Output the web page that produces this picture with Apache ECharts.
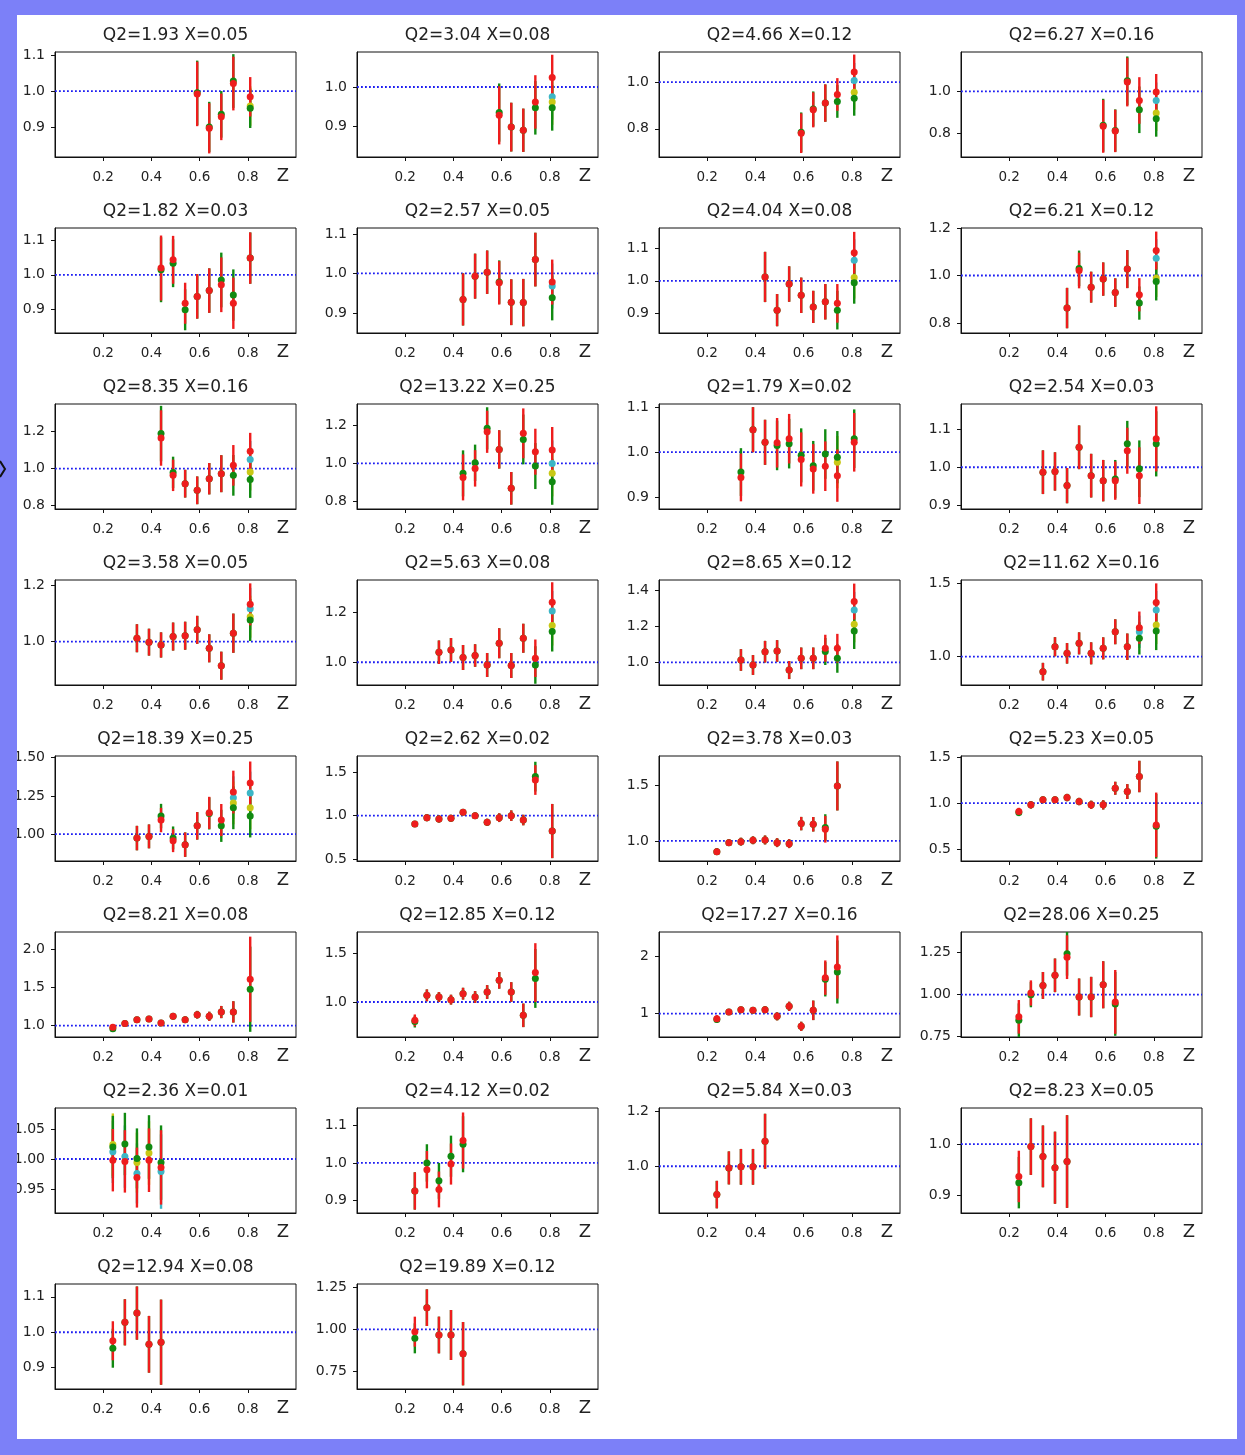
<!DOCTYPE html>
<html>
<head>
<meta charset="utf-8">
<script src="https://cdn.jsdelivr.net/npm/echarts@6/dist/echarts.min.js"></script>
<style>
  html, body { margin: 0; padding: 0; background: #fff; }
  #chart { width: 1245px; height: 1455px; }
</style>
</head>
<body>
<div id="chart"></div>
<script>
// ---- panel titles (Q2 / x bins) ----
const titles = [
  'Q2=1.93 X=0.05', 'Q2=3.04 X=0.08', 'Q2=4.66 X=0.12', 'Q2=6.27 X=0.16',
  'Q2=1.82 X=0.03', 'Q2=2.57 X=0.05', 'Q2=4.04 X=0.08', 'Q2=6.21 X=0.12',
  'Q2=8.35 X=0.16', 'Q2=13.22 X=0.25', 'Q2=1.79 X=0.02', 'Q2=2.54 X=0.03',
  'Q2=3.58 X=0.05', 'Q2=5.63 X=0.08', 'Q2=8.65 X=0.12', 'Q2=11.62 X=0.16',
  'Q2=18.39 X=0.25', 'Q2=2.62 X=0.02', 'Q2=3.78 X=0.03', 'Q2=5.23 X=0.05',
  'Q2=8.21 X=0.08', 'Q2=12.85 X=0.12', 'Q2=17.27 X=0.16', 'Q2=28.06 X=0.25',
  'Q2=2.36 X=0.01', 'Q2=4.12 X=0.02', 'Q2=5.84 X=0.03', 'Q2=8.23 X=0.05',
  'Q2=12.94 X=0.08', 'Q2=19.89 X=0.12'
];

// ---- axis limits and tick labels ----
const xTicks = ['0.2', '0.4', '0.6', '0.8'];
const yLimits = [
  [0.816, 1.109], [0.822, 1.089], [0.679, 1.129], [0.69, 1.186],
  [0.83, 1.137], [0.849, 1.115], [0.838, 1.164], [0.758, 1.2],
  [0.782, 1.35], [0.762, 1.31], [0.874, 1.107], [0.891, 1.165],
  [0.845, 1.22], [0.909, 1.329], [0.874, 1.457], [0.807, 1.523],
  [0.824, 1.511], [0.481, 1.683], [0.82, 1.763], [0.374, 1.511],
  [0.85, 2.23], [0.643, 1.714], [0.593, 2.424], [0.748, 1.373],
  [0.91, 1.085], [0.866, 1.147], [0.83, 1.212], [0.866, 1.07],
  [0.84, 1.136], [0.642, 1.272]
];
const yTicks = [
  ['0.9', '1.0', '1.1'], ['0.9', '1.0'], ['0.8', '1.0'], ['0.8', '1.0'],
  ['0.9', '1.0', '1.1'], ['0.9', '1.0', '1.1'], ['0.9', '1.0', '1.1'], ['0.8', '1.0', '1.2'],
  ['0.8', '1.0', '1.2'], ['0.8', '1.0', '1.2'], ['0.9', '1.0', '1.1'], ['0.9', '1.0', '1.1'],
  ['1.0', '1.2'], ['1.0', '1.2'], ['1.0', '1.2', '1.4'], ['1.0', '1.5'],
  ['1.00', '1.25', '1.50'], ['0.5', '1.0', '1.5'], ['1.0', '1.5'], ['0.5', '1.0', '1.5'],
  ['1.0', '1.5', '2.0'], ['1.0', '1.5'], ['1', '2'], ['0.75', '1.00', '1.25'],
  ['0.95', '1.00', '1.05'], ['0.9', '1.0', '1.1'], ['1.0', '1.2'], ['0.9', '1.0'],
  ['0.9', '1.0', '1.1'], ['0.75', '1.00', '1.25']
];
const refLevel = 1.0;

// ---- z bins ----
const zHigh5 = [0.59, 0.64, 0.69, 0.74, 0.81];
const zFrom44 = [0.44, 0.49, 0.54, 0.59, 0.64, 0.69, 0.74, 0.81];
const zFrom34 = [0.34, 0.39, 0.44, 0.49, 0.54, 0.59, 0.64, 0.69, 0.74, 0.81];
const zAll = [0.24, 0.29, 0.34, 0.39, 0.44, 0.49, 0.54, 0.59, 0.64, 0.69, 0.74, 0.81];
const zTo74 = [0.24, 0.29, 0.34, 0.39, 0.44, 0.49, 0.54, 0.59, 0.64, 0.69, 0.74];
const zTo64 = [0.24, 0.29, 0.34, 0.39, 0.44, 0.49, 0.54, 0.59, 0.64];
const zLow5 = [0.24, 0.29, 0.34, 0.39, 0.44];

// ---- ratios: red (main), green, cyan, yellow; err = half-width of bar ----
const red01 = [0.992, 0.896, 0.928, 1.021, 0.984];
const err01 = [0.09, 0.07, 0.065, 0.075, 0.055];
const grn01 = [0.995, 0.9, 0.935, 1.028, 0.952];
const yel01 = [null, null, null, null, 0.958];

const red02 = [0.928, 0.898, 0.89, 0.962, 1.024];
const err02 = [0.074, 0.062, 0.055, 0.068, 0.058];
const grn02 = [0.935, 0.898, 0.89, 0.947, 0.947];
const cyn02 = [null, null, null, null, 0.975];
const yel02 = [null, null, null, null, 0.962];

const red03 = [0.781, 0.881, 0.91, 0.947, 1.043];
const err03 = [0.085, 0.075, 0.08, 0.07, 0.075];
const grn03 = [0.785, 0.885, 0.91, 0.917, 0.931];
const cyn03 = [null, null, null, null, 1.007];
const yel03 = [null, null, null, null, 0.957];

const red04 = [0.835, 0.813, 1.044, 0.957, 0.997];
const err04 = [0.125, 0.1, 0.115, 0.11, 0.085];
const grn04 = [0.84, 0.815, 1.05, 0.913, 0.871];
const cyn04 = [null, null, null, null, 0.957];
const yel04 = [null, null, null, null, 0.898];

const red05 = [1.02, 1.044, 0.917, 0.937, 0.954, 0.971, 0.917, 1.049];
const err05 = [0.095, 0.07, 0.06, 0.065, 0.065, 0.08, 0.075, 0.075];
const grn05 = [1.015, 1.034, 0.898, 0.937, 0.954, 0.985, 0.941, 1.049];

const red06 = [0.934, 0.993, 1.003, 0.976, 0.927, 0.926, 1.035, 0.978];
const err06 = [0.066, 0.057, 0.055, 0.055, 0.058, 0.06, 0.068, 0.057];
const grn06 = [0.934, 0.993, 1.003, 0.978, 0.927, 0.926, 1.035, 0.938];
const cyn06 = [null, null, null, null, null, null, null, 0.968];

const red07 = [1.012, 0.909, 0.99, 0.955, 0.919, 0.935, 0.93, 1.087];
const err07 = [0.078, 0.05, 0.055, 0.055, 0.05, 0.055, 0.06, 0.065];
const grn07 = [1.012, 0.909, 0.99, 0.955, 0.919, 0.935, 0.909, 0.994];
const cyn07 = [null, null, null, null, null, null, null, 1.064];
const yel07 = [null, null, null, null, null, null, null, 1.01];

const red08 = [0.863, 1.021, 0.951, 0.985, 0.928, 1.027, 0.919, 1.105];
const err08 = [0.085, 0.075, 0.065, 0.07, 0.06, 0.08, 0.07, 0.08];
const grn08 = [0.863, 1.03, 0.951, 0.985, 0.928, 1.027, 0.884, 0.975];
const cyn08 = [null, null, null, null, null, null, null, 1.073];
const yel08 = [null, null, null, null, null, null, null, 0.99];

const red09 = [1.166, 0.964, 0.919, 0.883, 0.946, 0.973, 1.018, 1.094];
const err09 = [0.15, 0.085, 0.075, 0.075, 0.085, 0.1, 0.11, 0.1];
const grn09 = [1.19, 0.98, 0.919, 0.883, 0.946, 0.973, 0.964, 0.942];
const cyn09 = [null, null, null, null, null, null, null, 1.05];
const yel09 = [null, null, null, null, null, null, null, 0.982];

const red10 = [0.927, 0.974, 1.165, 1.073, 0.87, 1.157, 1.061, 1.07];
const err10 = [0.12, 0.095, 0.11, 0.1, 0.085, 0.13, 0.12, 0.12];
const grn10 = [0.948, 1.003, 1.183, 1.073, 0.87, 1.125, 0.986, 0.904];
const cyn10 = [null, null, null, null, null, null, null, 1.0];
const yel10 = [null, null, null, null, null, null, null, 0.948];

const red11 = [0.944, 1.05, 1.022, 1.021, 1.03, 0.984, 0.963, 0.969, 0.948, 1.022];
const err11 = [0.053, 0.05, 0.05, 0.055, 0.055, 0.06, 0.055, 0.055, 0.058, 0.065];
const grn11 = [0.956, 1.05, 1.022, 1.015, 1.019, 0.993, 0.97, 0.996, 0.989, 1.03];
const yel11 = [null, null, null, null, null, null, null, null, 0.978, null];

const red12 = [0.987, 0.989, 0.952, 1.052, 0.978, 0.965, 0.965, 1.043, 0.978, 1.074];
const err12 = [0.057, 0.05, 0.046, 0.057, 0.057, 0.054, 0.05, 0.06, 0.074, 0.085];
const grn12 = [0.987, 0.989, 0.952, 1.052, 0.978, 0.965, 0.969, 1.061, 0.996, 1.061];

const red13 = [1.012, 0.998, 0.988, 1.018, 1.021, 1.042, 0.976, 0.914, 1.03, 1.133];
const err13 = [0.05, 0.048, 0.045, 0.05, 0.05, 0.05, 0.05, 0.05, 0.07, 0.075];
const grn13 = [1.012, 0.998, 0.988, 1.018, 1.021, 1.042, 0.976, 0.914, 1.03, 1.077];
const cyn13 = [null, null, null, null, null, null, null, null, null, 1.117];
const yel13 = [null, null, null, null, null, null, null, null, null, 1.089];

const red14 = [1.04, 1.049, 1.019, 1.027, 0.989, 1.076, 0.987, 1.096, 1.016, 1.24];
const err14 = [0.047, 0.048, 0.05, 0.045, 0.048, 0.06, 0.05, 0.058, 0.075, 0.08];
const grn14 = [1.04, 1.049, 1.019, 1.027, 0.989, 1.076, 0.987, 1.096, 0.989, 1.123];
const cyn14 = [null, null, null, null, null, null, null, null, null, 1.205];
const yel14 = [null, null, null, null, null, null, null, null, null, 1.147];

const red15 = [1.013, 0.985, 1.059, 1.063, 0.957, 1.022, 1.022, 1.078, 1.078, 1.337];
const err15 = [0.06, 0.055, 0.06, 0.06, 0.05, 0.06, 0.06, 0.075, 0.08, 0.1];
const grn15 = [1.013, 0.985, 1.059, 1.063, 0.957, 1.022, 1.022, 1.06, 1.022, 1.174];
const cyn15 = [null, null, null, null, null, null, null, null, null, 1.291];
const yel15 = [null, null, null, null, null, null, null, null, null, 1.211];

const red16 = [0.898, 1.068, 1.023, 1.091, 1.023, 1.057, 1.17, 1.068, 1.198, 1.37];
const err16 = [0.06, 0.065, 0.07, 0.075, 0.075, 0.075, 0.085, 0.09, 0.11, 0.13];
const grn16 = [0.898, 1.068, 1.023, 1.091, 1.023, 1.057, 1.17, 1.068, 1.125, 1.175];
const cyn16 = [null, null, null, null, null, null, null, null, 1.17, 1.318];
const yel16 = [null, null, null, null, null, null, null, null, null, 1.216];

const red17 = [0.974, 0.985, 1.092, 0.957, 0.931, 1.054, 1.139, 1.092, 1.275, 1.335];
const err17 = [0.08, 0.078, 0.08, 0.075, 0.08, 0.09, 0.105, 0.105, 0.14, 0.14];
const grn17 = [0.974, 0.985, 1.118, 0.975, 0.931, 1.054, 1.135, 1.054, 1.172, 1.118];
const cyn17 = [null, null, null, null, null, null, null, null, 1.238, 1.269];
const yel17 = [null, null, null, null, null, null, null, null, 1.204, 1.172];

const red18 = [0.905, 0.977, 0.962, 0.969, 1.038, 1.0, 0.924, 0.977, 1.0, 0.95, 1.408, 0.824];
const err18 = [0.03, 0.04, 0.04, 0.04, 0.03, 0.035, 0.04, 0.05, 0.06, 0.06, 0.17, 0.31];
const grn18 = [0.905, 0.977, 0.962, 0.969, 1.038, 1.0, 0.924, 0.977, 1.0, 0.95, 1.447, 0.824];

const red19 = [0.904, 0.985, 0.994, 1.006, 1.009, 0.985, 0.976, 1.156, 1.15, 1.105, 1.494];
const err19 = [0.03, 0.03, 0.035, 0.035, 0.04, 0.04, 0.04, 0.06, 0.065, 0.12, 0.22];
const grn19 = [0.904, 0.985, 0.994, 1.006, 1.009, 0.985, 0.976, 1.156, 1.15, 1.12, 1.494];

const red20 = [0.91, 0.982, 1.036, 1.036, 1.061, 1.018, 0.982, 0.982, 1.162, 1.126, 1.289, 0.765];
const err20 = [0.04, 0.04, 0.035, 0.035, 0.04, 0.04, 0.045, 0.05, 0.07, 0.08, 0.17, 0.35];
const grn20 = [0.9, 0.982, 1.036, 1.036, 1.061, 1.018, 0.982, 0.982, 1.162, 1.126, 1.289, 0.75];

const red21 = [0.978, 1.026, 1.078, 1.087, 1.035, 1.122, 1.078, 1.143, 1.122, 1.178, 1.18, 1.609];
const err21 = [0.03, 0.03, 0.035, 0.035, 0.035, 0.04, 0.04, 0.05, 0.06, 0.08, 0.14, 0.56];
const grn21 = [0.96, 1.026, 1.078, 1.087, 1.035, 1.122, 1.078, 1.143, 1.122, 1.178, 1.18, 1.478];

const red22 = [0.813, 1.068, 1.051, 1.024, 1.085, 1.051, 1.102, 1.221, 1.102, 0.864, 1.3];
const err22 = [0.06, 0.06, 0.05, 0.05, 0.06, 0.06, 0.07, 0.085, 0.1, 0.12, 0.3];
const grn22 = [0.8, 1.068, 1.051, 1.024, 1.085, 1.051, 1.102, 1.221, 1.102, 0.864, 1.24];

const red23 = [0.913, 1.029, 1.07, 1.058, 1.07, 0.953, 1.128, 0.779, 1.058, 1.628, 1.814];
const err23 = [0.06, 0.04, 0.05, 0.05, 0.06, 0.07, 0.08, 0.08, 0.17, 0.3, 0.55];
const grn23 = [0.9, 1.029, 1.07, 1.058, 1.07, 0.953, 1.128, 0.779, 1.058, 1.6, 1.727];

const red24 = [0.868, 1.01, 1.055, 1.115, 1.223, 0.986, 0.986, 1.059, 0.957];
const err24 = [0.1, 0.075, 0.08, 0.1, 0.13, 0.11, 0.12, 0.14, 0.19];
const grn24 = [0.848, 1.0, 1.055, 1.115, 1.243, 0.986, 0.986, 1.059, 0.945];

const red25 = [0.998, 0.996, 0.969, 0.998, 0.986];
const err25 = [0.052, 0.052, 0.05, 0.053, 0.062];
const grn25 = [1.02, 1.025, 1.001, 1.02, 0.994];
const cyn25 = [1.012, 1.004, 0.976, null, 0.979];
const yel25 = [1.024, null, 0.994, 1.01, null];

const red26 = [0.925, 0.982, 0.929, 0.997, 1.06];
const err26 = [0.05, 0.05, 0.048, 0.055, 0.075];
const grn26 = [0.925, 1.0, 0.952, 1.018, 1.05];

const red27 = [0.897, 0.994, 0.998, 0.998, 1.091];
const err27 = [0.05, 0.06, 0.065, 0.065, 0.1];
const grn27 = [0.897, 0.994, 0.998, 0.998, 1.091];

const red28 = [0.937, 0.995, 0.976, 0.954, 0.966];
const err28 = [0.05, 0.055, 0.06, 0.07, 0.09];
const grn28 = [0.925, 0.995, 0.976, 0.954, 0.966];

const red29 = [0.976, 1.028, 1.054, 0.966, 0.972];
const err29 = [0.055, 0.065, 0.075, 0.08, 0.12];
const grn29 = [0.955, 1.028, 1.054, 0.966, 0.972];

const red30 = [0.986, 1.13, 0.966, 0.966, 0.854];
const err30 = [0.09, 0.11, 0.11, 0.15, 0.19];
const grn30 = [0.946, 1.13, 0.966, 0.966, 0.854];

// ---- per-panel lookups ----
const panelZ = [
  zHigh5, zHigh5, zHigh5, zHigh5,
  zFrom44, zFrom44, zFrom44, zFrom44, zFrom44, zFrom44,
  zFrom34, zFrom34, zFrom34, zFrom34, zFrom34, zFrom34, zFrom34,
  zAll, zTo74, zAll, zAll, zTo74, zTo74, zTo64,
  zLow5, zLow5, zLow5, zLow5, zLow5, zLow5
];
const reds = [red01, red02, red03, red04, red05, red06, red07, red08, red09, red10,
  red11, red12, red13, red14, red15, red16, red17, red18, red19, red20,
  red21, red22, red23, red24, red25, red26, red27, red28, red29, red30];
const errs = [err01, err02, err03, err04, err05, err06, err07, err08, err09, err10,
  err11, err12, err13, err14, err15, err16, err17, err18, err19, err20,
  err21, err22, err23, err24, err25, err26, err27, err28, err29, err30];
const grns = [grn01, grn02, grn03, grn04, grn05, grn06, grn07, grn08, grn09, grn10,
  grn11, grn12, grn13, grn14, grn15, grn16, grn17, grn18, grn19, grn20,
  grn21, grn22, grn23, grn24, grn25, grn26, grn27, grn28, grn29, grn30];
const cyns = [null, cyn02, cyn03, cyn04, null, cyn06, cyn07, cyn08, cyn09, cyn10,
  null, null, cyn13, cyn14, cyn15, cyn16, cyn17, null, null, null,
  null, null, null, null, cyn25, null, null, null, null, null];
const yels = [yel01, yel02, yel03, yel04, null, null, yel07, yel08, yel09, yel10,
  yel11, null, yel13, yel14, yel15, yel16, yel17, null, null, null,
  null, null, null, null, yel25, null, null, null, null, null];

// ---- layout ----
const AX_LEFT0 = 55, AX_DX = 302, AX_W = 241;
const AX_TOP0 = 52, AX_DY = 176, AX_H = 105;
const FONT = '"DejaVu Sans", "Liberation Sans", sans-serif';
const TXT = '#222';
// layer order (bottom to top): cyan, yellow, green, red
const LAYER_COLORS = ['#3cb6c6', '#c9c816', '#118a11', '#ee1d1d'];
const FRAME = '#7c80f8';

function labelFor(list, v) {
  for (const s of list) if (Math.abs(parseFloat(s) - v) < 1e-9) return s;
  return '';
}

// part 0 = error bar, part 1 = marker
function renderBar(params, api) {
  const x = api.value(0), v = api.value(1), e = api.value(2);
  const k = api.value(3), part = api.value(4);
  const col = LAYER_COLORS[k];
  if (part === 0) {
    const hi = api.coord([x, v + e]);
    const lo = api.coord([x, v - e]);
    return { type: 'line', shape: { x1: hi[0], y1: hi[1], x2: lo[0], y2: lo[1] },
      style: { stroke: col, lineWidth: 2.4 } };
  }
  const c = api.coord([x, v]);
  return { type: 'circle', shape: { cx: c[0], cy: c[1], r: 3.5 }, style: { fill: col } };
}

const grids = [], xAxes = [], yAxes = [], series = [], graphics = [];
const xTickVals = xTicks.map(Number);

for (let p = 0; p < titles.length; p++) {
  const col = p % 4, row = Math.floor(p / 4);
  const left = AX_LEFT0 + col * AX_DX;
  const top = AX_TOP0 + row * AX_DY;
  const yVals = yTicks[p].map(Number);

  grids.push({ left: left, top: top, width: AX_W, height: AX_H,
    show: true, borderColor: '#111', borderWidth: 1, backgroundColor: '#fff' });

  xAxes.push({
    type: 'value', gridIndex: p, min: 0, max: 1,
    splitLine: { show: false },
    axisLine: { show: true, onZero: false, lineStyle: { color: '#111', width: 1 } },
    axisTick: { show: true, inside: false, length: 4, customValues: xTickVals,
      lineStyle: { color: '#111', width: 1 } },
    axisLabel: { customValues: xTickVals, formatter: (v) => labelFor(xTicks, v),
      margin: 13, fontSize: 13.5, fontFamily: FONT, color: TXT }
  });

  yAxes.push({
    type: 'value', gridIndex: p, min: yLimits[p][0], max: yLimits[p][1],
    splitLine: { show: false },
    axisLine: { show: true, onZero: false, lineStyle: { color: '#111', width: 1 } },
    axisTick: { show: true, inside: false, length: 4, customValues: yVals,
      lineStyle: { color: '#111', width: 1 } },
    axisLabel: { customValues: yVals, formatter: (v) => labelFor(yTicks[p], v),
      margin: 10, fontSize: 14, fontFamily: FONT, color: TXT }
  });

  // dotted reference line at ratio 1
  series.push({
    type: 'line', xAxisIndex: p, yAxisIndex: p, silent: true,
    data: [[0, refLevel], [1, refLevel]],
    showSymbol: false, symbol: 'none', animation: false, z: 2,
    lineStyle: { color: '#1c1cf2', width: 1.8, type: [1.8, 2.2] }
  });

  // error bars first, then markers on top
  const zs = panelZ[p];
  const layers = [cyns[p], yels[p], grns[p], reds[p]];
  const rows = [];
  for (const part of [0, 1]) {
    layers.forEach((arr, k) => {
      if (!arr) return;
      arr.forEach((v, i) => {
        if (v === null || v === undefined) return;
        rows.push([zs[i], v, errs[p][i], k, part]);
      });
    });
  }
  series.push({
    type: 'custom', xAxisIndex: p, yAxisIndex: p, silent: true, clip: true,
    dimensions: ['z', 'ratio', 'err', 'layer', 'part'],
    encode: { x: 0, y: 1 }, data: rows, renderItem: renderBar, z: 3
  });

  // panel title
  graphics.push({
    type: 'text', x: left + AX_W / 2, y: top - 16, z: 10,
    style: { text: titles[p], fill: TXT, font: '17px ' + FONT,
      align: 'center', verticalAlign: 'middle',
      textAlign: 'center', textVerticalAlign: 'middle' }
  });
  // axis name
  graphics.push({
    type: 'text', x: left + 228, y: top + AX_H + 19, z: 10,
    style: { text: 'Z', fill: TXT, font: '18px ' + FONT,
      align: 'center', verticalAlign: 'middle',
      textAlign: 'center', textVerticalAlign: 'middle' }
  });
}

// outer frame
graphics.push(
  { type: 'rect', z: 100, shape: { x: 0, y: 0, width: 1245, height: 15 }, style: { fill: FRAME } },
  { type: 'rect', z: 100, shape: { x: 0, y: 1439, width: 1245, height: 16 }, style: { fill: FRAME } },
  { type: 'rect', z: 100, shape: { x: 0, y: 0, width: 17, height: 1455 }, style: { fill: FRAME } },
  { type: 'rect', z: 100, shape: { x: 1237, y: 0, width: 8, height: 1455 }, style: { fill: FRAME } },
  { type: 'polyline', z: 101, shape: { points: [[0, 461], [5, 469], [0, 477]] },
    style: { stroke: '#111', lineWidth: 2, fill: null } }
);

const chart = echarts.init(document.getElementById('chart'), null, { renderer: 'canvas' });
chart.setOption({
  animation: false,
  backgroundColor: '#ffffff',
  grid: grids,
  xAxis: xAxes,
  yAxis: yAxes,
  series: series,
  graphic: { elements: graphics }
});
</script>
</body>
</html>
